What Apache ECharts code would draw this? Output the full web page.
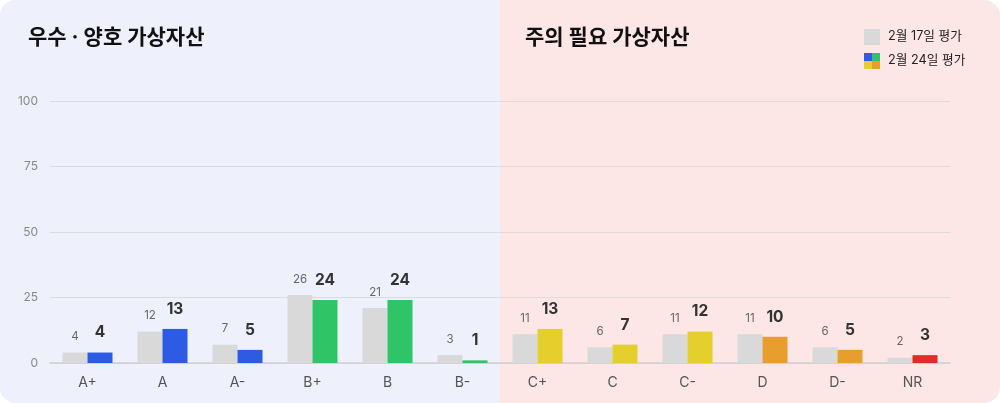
<!DOCTYPE html>
<html><head><meta charset="utf-8">
<script src="https://cdn.jsdelivr.net/npm/echarts@6/dist/echarts.min.js"></script>
<style>html,body{margin:0;padding:0;background:#fff;}#c{width:1000px;height:403px;}</style>
</head><body><div id="c"></div>
<script>
const categories = ['A+','A','A-','B+','B','B-','C+','C','C-','D','D-','NR'];
const feb17 = [4,12,7,26,21,3,11,6,11,11,6,2];
const feb24 = [4,13,5,24,24,1,13,7,12,10,5,3];
const barColors = ['#2d5be3','#2d5be3','#2d5be3','#2fc466','#2fc466','#2fc466','#e5cf2c','#e5cf2c','#e5cf2c','#e89d2f','#e89d2f','#e22b2b'];
const yTicks = [0,25,50,75,100];
const titleLeft = '우수 · 양호 가상자산';
const titleRight = '주의 필요 가상자산';
const legendNames = ['2월 17일 평가','2월 24일 평가'];

const font = 'Inter, "Noto Sans CJK KR", sans-serif';
const chart = echarts.init(document.getElementById('c'));
chart.setOption({
  animation:false,
  textStyle:{fontFamily:font},
  graphic:[
    {type:'group', z:-10, children:[
      {type:'rect', shape:{x:0,y:0,width:1000,height:403,r:16}, style:{fill:'#fde6e6'}},
      {type:'rect', shape:{x:0,y:0,width:500,height:403,r:[16,0,0,16]}, style:{fill:'#eef0fc'}}
    ]},
    {type:'text', left:28, top:27, style:{text:titleLeft, font:'bold 21px '+font, fill:'#111'}},
    {type:'text', left:525, top:27, style:{text:titleRight, font:'bold 21px '+font, fill:'#111'}},
    {type:'rect', left:864, top:29, shape:{width:16,height:16}, style:{fill:'#d9d9d9'}},
    {type:'text', left:888, top:30, style:{text:legendNames[0], font:'12.7px '+font, fill:'#222'}},
    {type:'group', left:864, top:53, children:[
      {type:'rect', shape:{x:0,y:0,width:8,height:8}, style:{fill:barColors[0]}},
      {type:'rect', shape:{x:8,y:0,width:8,height:8}, style:{fill:barColors[3]}},
      {type:'rect', shape:{x:0,y:8,width:8,height:8}, style:{fill:barColors[6]}},
      {type:'rect', shape:{x:8,y:8,width:8,height:8}, style:{fill:barColors[9]}}
    ]},
    {type:'text', left:888, top:54, style:{text:legendNames[1], font:'12.7px '+font, fill:'#222'}}
  ],
  grid:{left:50,right:50,top:101,bottom:40,containLabel:false},
  xAxis:{type:'category', data:categories,
    axisLine:{lineStyle:{color:'#cfcfcf',width:1.5}}, axisTick:{show:false},
    axisLabel:{color:'#555', fontSize:14, margin:13}},
  yAxis:{type:'value', min:0, max:100, interval:25,
    axisLine:{show:false}, axisTick:{show:false},
    splitLine:{lineStyle:{color:'#dcdcdc'}},
    axisLabel:{color:'#888', fontSize:12, margin:12, formatter:v=>yTicks.includes(v)?String(v):''}},
  series:[
    {name:legendNames[0], type:'bar', data:feb17, barWidth:25, barGap:'0%',
      itemStyle:{color:'#d9d9d9'},
      label:{show:true, position:'top', distance:10, color:'#666', fontSize:11.5}},
    {name:legendNames[1], type:'bar', barWidth:25,
      data:feb24.map((v,i)=>({value:v, itemStyle:{color:barColors[i]}})),
      label:{show:true, position:'top', distance:12, color:'#333', fontSize:15.5, fontWeight:'bold'}}
  ]
});
</script></body></html>
